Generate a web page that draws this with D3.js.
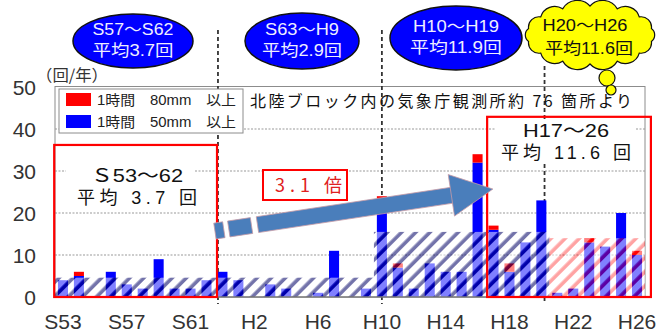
<!DOCTYPE html>
<html>
<head>
<meta charset="utf-8">
<script src="https://cdn.jsdelivr.net/npm/d3@7"></script>
<style>
  html, body { margin: 0; padding: 0; background: #fff; }
  svg { display: block; }
  text { font-family: "Liberation Sans", Arial, "Noto Sans CJK JP", sans-serif; }
  .jp { font-family: "Noto Sans CJK JP", "Liberation Sans", sans-serif; }
  .mix { font-family: "Liberation Sans", "Noto Sans CJK JP", sans-serif; }
</style>
</head>
<body>
<svg id="chart" width="661" height="333"></svg>
<script>
// ---- data ---------------------------------------------------------------
const categories = [
  "S53","S54","S55","S56","S57","S58","S59","S60","S61","S62",
  "S63","H1","H2","H3","H4","H5","H6","H7","H8","H9",
  "H10","H11","H12","H13","H14","H15","H16","H17","H18","H19",
  "H20","H21","H22","H23","H24","H25","H26"
];
// occurrences per year, 1 hour >= 50mm
const rain50 = [
  4, 5, 0, 6, 3, 2, 9, 2, 2, 4,
  6, 4, 0, 3, 2, 0, 1, 11, 0, 2,
  23, 7, 2, 8, 6, 6, 32, 16, 6, 13,
  23, 1, 2, 13, 12, 20, 10
];
// occurrences per year, 1 hour >= 80mm (stacked on top)
const rain80 = [
  0, 1, 0, 0, 0, 0, 0, 0, 0, 0,
  0, 0, 0, 0, 0, 0, 0, 0, 0, 0,
  1, 1, 0, 0, 0, 0, 2, 1, 2, 0,
  0, 0, 0, 1, 0, 0, 1
];
const tickLabels = ["S53","S57","S61","H2","H6","H10","H14","H18","H22","H26"];
const yTicks = [0, 10, 20, 30, 40, 50];

// hatched period bands
const bandFrom  = ["S53", "H10", "H21"];
const bandTo    = ["H9",  "H20", "H26"];
const bandLevel = [4.6, 15.5, 14];

// period averages shown in the bubbles
const periodLabels   = ["S57～S62", "S63～H9", "H10～H19", "H20～H26"];
const periodAverages = [3.7, 2.9, 11.9, 11.6];

// framed comparison periods
const boxLabels   = ["Ｓ53～62", "H17～26"];
const boxAverages = [3.7, 11.6];
const ratioLabel  = "3.1 倍";

// period dividers (category index position)
const dividerAt = [9.72, 20, 30.2];

// ---- scales -------------------------------------------------------------
const svg = d3.select("#chart");
const x = d3.scaleBand().domain(categories).range([55, 645])
  .paddingInner(0.37).paddingOuter(0.185);
const y = d3.scaleLinear().domain([0, 50]).range([297, 87]);
const step = x.step();
const cx = c => x(c) + x.bandwidth() / 2;
const xAt = i => x.range()[0] + step * (i + 0.5);

// ---- patterns -----------------------------------------------------------
const defs = svg.append("defs");
function hatch(id, stripe, alpha) {
  const p = defs.append("pattern").attr("id", id)
    .attr("patternUnits", "userSpaceOnUse")
    .attr("width", 10).attr("height", 10)
    .attr("patternTransform", "rotate(45)");
  p.append("rect").attr("x", 0).attr("y", 0).attr("width", 6.4).attr("height", 10)
    .attr("fill", "#fff").attr("fill-opacity", 0.5);
  p.append("rect").attr("x", 6.4).attr("y", 0).attr("width", 3.6).attr("height", 10)
    .attr("fill", stripe).attr("fill-opacity", alpha);
}
hatch("hatchNavy", "#000064", 0.55);
hatch("hatchRed", "#ff0000", 0.36);
const bandFill = ["url(#hatchNavy)", "url(#hatchNavy)", "url(#hatchRed)"];

// ---- plot frame and grid ------------------------------------------------
svg.append("rect")
  .attr("x", x.range()[0]).attr("y", y(50) - 0.5)
  .attr("width", x.range()[1] - x.range()[0]).attr("height", y(0) - y(50) + 0.5)
  .attr("fill", "none").attr("stroke", "#8c8c8c").attr("stroke-width", 1);

svg.append("g").selectAll("line")
  .data(yTicks.filter(v => v > 0 && v < 50))
  .join("line")
  .attr("x1", x.range()[0]).attr("x2", x.range()[1])
  .attr("y1", d => y(d)).attr("y2", d => y(d))
  .attr("stroke", "#9a9a9a").attr("stroke-width", 1.2)
  .attr("stroke-dasharray", "2,1.5");

// period dividers
svg.append("g").selectAll("line")
  .data(dividerAt)
  .join("line")
  .attr("x1", d => xAt(d)).attr("x2", d => xAt(d))
  .attr("y1", (d, i) => i === 2 ? 66 : 30).attr("y2", 304)
  .attr("stroke", "#333").attr("stroke-width", 1.8)
  .attr("stroke-dasharray", "4,3");

// ---- bars ---------------------------------------------------------------
const bars = svg.append("g");
bars.selectAll("rect.b50")
  .data(categories)
  .join("rect").attr("class", "b50")
  .attr("x", d => x(d)).attr("width", x.bandwidth())
  .attr("y", (d, i) => y(rain50[i]))
  .attr("height", (d, i) => y(0) - y(rain50[i]))
  .attr("fill", "#0000ff");
bars.selectAll("rect.b80")
  .data(categories)
  .join("rect").attr("class", "b80")
  .attr("x", d => x(d)).attr("width", x.bandwidth())
  .attr("y", (d, i) => y(rain50[i] + rain80[i]))
  .attr("height", (d, i) => y(rain50[i]) - y(rain50[i] + rain80[i]))
  .attr("fill", "#ff0000");

// hatched period bands over the bars
svg.append("g").selectAll("rect")
  .data(bandLevel)
  .join("rect")
  .attr("x", (d, i) => cx(bandFrom[i]) - step / 2)
  .attr("width", (d, i) => cx(bandTo[i]) - cx(bandFrom[i]) + step)
  .attr("y", d => y(d))
  .attr("height", d => y(0) - y(d))
  .attr("fill", (d, i) => bandFill[i]);

// baseline
svg.append("line")
  .attr("x1", x.range()[0]).attr("x2", x.range()[1])
  .attr("y1", y(0)).attr("y2", y(0))
  .attr("stroke", "#7a7a7a").attr("stroke-width", 1.5);

// ---- axes labels --------------------------------------------------------
svg.append("g").selectAll("text")
  .data(yTicks)
  .join("text")
  .attr("x", 36).attr("y", d => y(d) + 7.5)
  .attr("text-anchor", "end")
  .attr("font-size", 21).attr("fill", "#333")
  .text(d => d);

svg.append("text").attr("class", "jp")
  .attr("x", 36).attr("y", 81)
  .attr("font-size", 16).attr("fill", "#333")
  .attr("textLength", 72).attr("lengthAdjust", "spacingAndGlyphs")
  .text("（回/年）");

svg.append("g").selectAll("text")
  .data(tickLabels)
  .join("text")
  .attr("x", d => cx(d)).attr("y", 329)
  .attr("text-anchor", "middle")
  .attr("font-size", 21).attr("fill", "#333")
  .text(d => d);

// ---- framed periods -----------------------------------------------------
const frames = [
  { i0: -0.55, i1: 9.66, top: 36.2, tx: 137, ty: 182, bg: [66, 160, 128, 46] },
  { i0: 26.6, i1: 36.87, top: 42.9, tx: 566, ty: 137, bg: [496, 119, 140, 43] }
];
frames.forEach((f, k) => {
  svg.append("rect")
    .attr("x", f.bg[0]).attr("y", f.bg[1]).attr("width", f.bg[2]).attr("height", f.bg[3])
    .attr("fill", "#fff");
  svg.append("rect")
    .attr("x", xAt(f.i0)).attr("y", y(f.top))
    .attr("width", xAt(f.i1) - xAt(f.i0)).attr("height", y(0) - y(f.top))
    .attr("fill", "none").attr("stroke", "#ff0000").attr("stroke-width", 2.2);
  svg.append("text").attr("class", "mix")
    .attr("x", f.tx).attr("y", f.ty).attr("text-anchor", "middle")
    .attr("font-size", 18).attr("fill", "#111")
    .attr("textLength", k === 0 ? 92 : 86).attr("lengthAdjust", "spacingAndGlyphs")
    .text(boxLabels[k]);
  svg.append("text").attr("class", "mix")
    .attr("x", f.tx).attr("y", f.ty + 22).attr("text-anchor", "middle")
    .attr("font-size", 18).attr("fill", "#111")
    .attr("textLength", k === 0 ? 120 : 130).attr("lengthAdjust", "spacing")
    .text("平均 " + boxAverages[k] + " 回");
});

// ---- growth arrow -------------------------------------------------------
const arrowFrom = [9.53, 15.7];
const arrowTip  = [26.96, 25.7];
(function drawArrow() {
  const x0 = xAt(arrowFrom[0]), y0 = y(arrowFrom[1]);
  const x1 = xAt(arrowTip[0]),  y1 = y(arrowTip[1]);
  const dx = x1 - x0, dy = y1 - y0, len = Math.hypot(dx, dy);
  const ux = dx / len, uy = dy / len, nx = -uy, ny = ux;
  const headLen = 42, bodyHalf = 8, headHalf = 21;
  const bx = x1 - ux * headLen, by = y1 - uy * headLen;
  const g = svg.append("g");
  // shaft: broken at the tail, solid afterwards
  const segs = [[0, 9], [14, 37], [43, len - headLen + 1]];
  segs.forEach(([a, b]) => {
    const ax = x0 + ux * a, ay = y0 + uy * a, ex = x0 + ux * b, ey = y0 + uy * b;
    g.append("polygon")
      .attr("points", [
        [ax + nx * bodyHalf, ay + ny * bodyHalf],
        [ex + nx * bodyHalf, ey + ny * bodyHalf],
        [ex - nx * bodyHalf, ey - ny * bodyHalf],
        [ax - nx * bodyHalf, ay - ny * bodyHalf]
      ].map(p => p.join(",")).join(" "))
      .attr("fill", "#4a7ebb").attr("stroke", "#c79aa6").attr("stroke-width", 0.8);
  });
  g.append("polygon")
    .attr("points", [
      [bx + nx * headHalf, by + ny * headHalf],
      [x1, y1],
      [bx - nx * headHalf, by - ny * headHalf]
    ].map(p => p.join(",")).join(" "))
    .attr("fill", "#4a7ebb").attr("stroke", "#c79aa6").attr("stroke-width", 0.8);
})();

// ratio label
svg.append("rect")
  .attr("x", 263).attr("y", 170).attr("width", 84).attr("height", 30)
  .attr("fill", "#fff").attr("stroke", "#ff0000").attr("stroke-width", 2);
svg.append("text").attr("class", "jp")
  .attr("x", 275).attr("y", 192)
  .attr("font-size", 18).attr("fill", "#e02020")
  .attr("textLength", 67).attr("lengthAdjust", "spacing")
  .text(ratioLabel);

// ---- legend and note ----------------------------------------------------
svg.append("rect")
  .attr("x", 59).attr("y", 89).attr("width", 184).attr("height", 44)
  .attr("fill", "#fff").attr("stroke", "#8c8c8c").attr("stroke-width", 1);
const legend = [
  { color: "#ff0000", label: "1時間　80mm　以上" },
  { color: "#0000ff", label: "1時間　50mm　以上" }
];
legend.forEach((d, i) => {
  svg.append("rect")
    .attr("x", 66).attr("y", 93 + i * 22).attr("width", 25).attr("height", 13)
    .attr("fill", d.color);
  svg.append("text").attr("class", "mix")
    .attr("x", 97).attr("y", 105 + i * 22)
    .attr("font-size", 14).attr("fill", "#222")
    .attr("textLength", 139).attr("lengthAdjust", "spacingAndGlyphs")
    .text(d.label);
});

svg.append("text").attr("class", "jp")
  .attr("x", 250).attr("y", 107)
  .attr("font-size", 16).attr("fill", "#111")
  .attr("textLength", 382).attr("lengthAdjust", "spacing")
  .text("北陸ブロック内の気象庁観測所約 76 箇所より");

// ---- period bubbles -----------------------------------------------------
const bubbles = [
  { cx: 133, cy: 41, rx: 60, ry: 27, w1: 81, w2: 81 },
  { cx: 302, cy: 41, rx: 57, ry: 28, w1: 74, w2: 80 },
  { cx: 456, cy: 38, rx: 66, ry: 32, w1: 86, w2: 92 }
];
bubbles.forEach((b, i) => {
  svg.append("ellipse")
    .attr("cx", b.cx).attr("cy", b.cy).attr("rx", b.rx).attr("ry", b.ry)
    .attr("fill", "#0000ff").attr("stroke", "#111").attr("stroke-width", 1.5);
  svg.append("text").attr("class", "mix")
    .attr("x", b.cx).attr("y", b.cy - 6).attr("text-anchor", "middle")
    .attr("font-size", 16).attr("fill", "#eef")
    .attr("textLength", b.w1).attr("lengthAdjust", "spacingAndGlyphs")
    .text(periodLabels[i]);
  svg.append("text").attr("class", "mix")
    .attr("x", b.cx).attr("y", b.cy + 15).attr("text-anchor", "middle")
    .attr("font-size", 16).attr("fill", "#eef")
    .attr("textLength", b.w2).attr("lengthAdjust", "spacingAndGlyphs")
    .text("平均" + periodAverages[i] + "回");
});

// thought cloud for the latest period
(function drawCloud() {
  const ccx = 590, ccy = 35, rx = 63, ry = 29, n = 14;
  const pts = d3.range(n).map(k => {
    const a = -Math.PI / 2 + (k / n) * 2 * Math.PI;
    return [ccx + rx * Math.cos(a), ccy + ry * Math.sin(a)];
  });
  let dPath = "M" + pts[0].join(",");
  for (let k = 0; k < n; k++) {
    const p = pts[k], q = pts[(k + 1) % n];
    const r = Math.hypot(q[0] - p[0], q[1] - p[1]) * 0.62;
    dPath += ` A${r},${r} 0 0 1 ${q[0]},${q[1]}`;
  }
  dPath += "Z";
  const g = svg.append("g");
  g.append("path").attr("d", dPath)
    .attr("fill", "#ffff00").attr("stroke", "#111").attr("stroke-width", 1.2);
  g.append("circle").attr("cx", 607).attr("cy", 78).attr("r", 8)
    .attr("fill", "#ffff00").attr("stroke", "#111").attr("stroke-width", 1.2);
  g.append("circle").attr("cx", 611).attr("cy", 90).attr("r", 5)
    .attr("fill", "#ffff00").attr("stroke", "#111").attr("stroke-width", 1.2);
  g.append("text").attr("class", "mix")
    .attr("x", 585).attr("y", 31).attr("text-anchor", "middle")
    .attr("font-size", 16).attr("fill", "#111")
    .attr("textLength", 85).attr("lengthAdjust", "spacingAndGlyphs")
    .text(periodLabels[3]);
  g.append("text").attr("class", "mix")
    .attr("x", 589).attr("y", 54).attr("text-anchor", "middle")
    .attr("font-size", 16).attr("fill", "#111")
    .attr("textLength", 88).attr("lengthAdjust", "spacingAndGlyphs")
    .text("平均" + periodAverages[3] + "回");
})();
</script>
</body>
</html>
